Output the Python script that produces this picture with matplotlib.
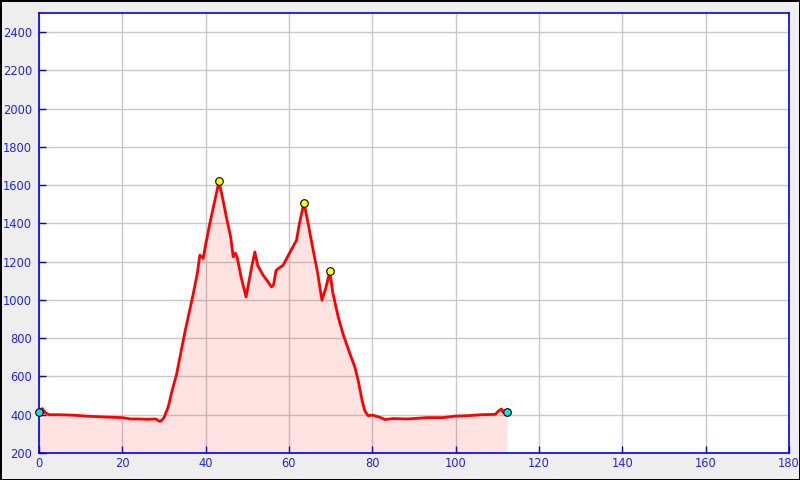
import matplotlib
matplotlib.use("Agg")
import matplotlib.pyplot as plt

# distance (km) and elevation (m)
dist = [0, 0.8, 1.5, 2.5, 5, 8, 12, 16, 20, 22, 24, 26, 28, 29, 29.5, 30, 31, 32, 33, 34,
        35, 36, 37, 38, 38.6, 39.4, 40, 41, 42, 43.2, 44, 45, 46, 46.6, 47.1, 47.6, 48.5,
        49.7, 50.5, 51.2, 51.8, 52.5, 53.8, 54.8, 55.8, 56.3, 56.9, 58.6, 60, 61.8, 62.5,
        63.6, 64.5, 65.8, 66.8, 67.9, 68.8, 69.8, 70.5, 71.8, 73, 74.6, 75.8, 76.6, 77.5,
        78.2, 79, 80, 82, 83, 85, 88, 90, 93, 97, 100, 103, 106, 109.5, 110.3, 111, 111.5,
        112.3]
elev = [415, 432, 410, 400, 400, 398, 392, 388, 385, 378, 378, 376, 378, 365, 372, 385, 440,
        530, 610, 720, 830, 930, 1030, 1140, 1234, 1217, 1290, 1400, 1500, 1620, 1540, 1430,
        1330, 1225, 1245, 1220, 1120, 1016, 1110, 1190, 1251, 1180, 1129, 1100, 1068, 1080,
        1155, 1182, 1240, 1312, 1400, 1509, 1410, 1260, 1150, 999, 1060, 1150, 1040, 912,
        820, 720, 650, 580, 480, 420, 395, 398, 385, 375, 380, 378, 380, 385, 385, 393, 395,
        400, 402, 420, 430, 410, 415]

peak_x = [43.2, 63.6, 69.8]
peak_y = [1620, 1509, 1150]
end_x = [0, 112.3]
end_y = [415, 415]

xticks = list(range(0, 181, 20))
yticks = list(range(200, 2401, 200))

fig = plt.figure(figsize=(8, 4.8), dpi=100, facecolor='#eeeeee',
                 edgecolor='black', linewidth=2)
ax = fig.add_axes([0.04875, 0.05625, 0.9375, 0.9167])
ax.set_facecolor('white')

ax.fill_between(dist, elev, 200, color='#ff2020', alpha=0.13, linewidth=0, zorder=3)
ax.plot(dist, elev, color='red', linewidth=2, zorder=4)
ax.scatter(peak_x, peak_y, s=30, color='#ffff00', edgecolors='black', linewidths=0.8,
           zorder=7, clip_on=False)
ax.scatter(end_x, end_y, s=30, color='#22dddd', edgecolors='black', linewidths=0.8,
           zorder=7, clip_on=False)

ax.set_xlim(0, 180)
ax.set_ylim(200, 2500)
ax.set_xticks(xticks)
ax.set_yticks(yticks)
ax.grid(True, color='#c8c8c8', linewidth=1)
ax.set_axisbelow(True)

for s in ax.spines.values():
    s.set_color('#0000ee')
    s.set_linewidth(1.2)
    s.set_zorder(6)

ax.tick_params(axis='both', direction='in', length=5, width=1, color='#0000ee',
               labelcolor='#2222ee', labelsize=8.3)
ax.tick_params(axis='y', pad=5)
ax.tick_params(axis='x', pad=3)

fig.savefig('out.png', dpi=100, facecolor=fig.get_facecolor(), edgecolor=fig.get_edgecolor())
